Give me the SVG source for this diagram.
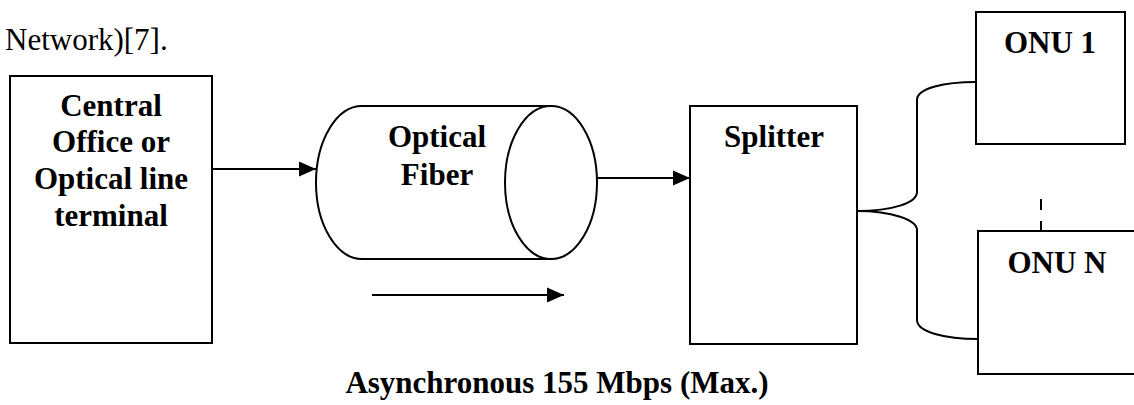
<svg xmlns="http://www.w3.org/2000/svg" width="1134" height="405" viewBox="0 0 1134 405">
  <style>
    .box { fill: #fff; stroke: #000; stroke-width: 2; }
    .line { fill: none; stroke: #000; stroke-width: 2; }
    .lbl { font-family: "Liberation Serif", "Times New Roman", serif; font-weight: bold; font-size: 31px; fill: #000; text-anchor: middle; }
    .body { font-family: "Liberation Serif", "Times New Roman", serif; font-size: 31px; fill: #000; }
  </style>
  <defs>
    <marker id="arrow" markerUnits="userSpaceOnUse" markerWidth="20" markerHeight="18" refX="17" refY="9" orient="auto">
      <path d="M0,1.5 L17,9 L0,16.5 Z" fill="#000"/>
    </marker>
  </defs>
  <rect width="1134" height="405" fill="#fff"/>

  <text class="body" x="5" y="50">Network)[7].</text>

  <g id="central-office">
    <rect class="box" x="10" y="76" width="202" height="267"/>
    <text class="lbl" x="111" y="116">Central</text>
    <text class="lbl" x="111" y="152">Office or</text>
    <text class="lbl" x="111" y="189">Optical line</text>
    <text class="lbl" x="111" y="226">terminal</text>
  </g>

  <g id="optical-fiber">
    <path class="box" d="M362,106 L551,106 L551,259 L362,259 A46,76.5 0 0 1 362,106 Z"/>
    <ellipse class="box" cx="551" cy="182.5" rx="46" ry="76.5"/>
    <text class="lbl" x="437" y="147">Optical</text>
    <text class="lbl" x="437" y="185">Fiber</text>
  </g>

  <g id="splitter">
    <rect class="box" x="690" y="106" width="167" height="238"/>
    <text class="lbl" x="774" y="147">Splitter</text>
  </g>

  <g id="onu-1">
    <rect class="box" x="976" y="12" width="149" height="132"/>
    <text class="lbl" x="1050" y="53">ONU 1</text>
  </g>

  <g id="onu-n">
    <rect class="box" x="978" y="231" width="170" height="143"/>
    <text class="lbl" x="1057" y="273">ONU N</text>
  </g>

  <g id="connectors">
    <line class="line" x1="212" y1="169" x2="316" y2="169" marker-end="url(#arrow)"/>
    <line class="line" x1="597" y1="178" x2="690" y2="178" marker-end="url(#arrow)"/>
    <line class="line" x1="372" y1="295" x2="564" y2="295" marker-end="url(#arrow)"/>
    <path class="line" d="M857,211 C892,211 917,203 917,192 L917,100 C917,88 945,82 976,82"/>
    <path class="line" d="M857,211 C892,211 917,220 917,230 L917,320 C917,332 945,339 978,339"/>
    <path class="line" d="M1041,199 L1041,210 M1041,221 L1041,231"/>
  </g>

  <text class="lbl" x="557" y="393">Asynchronous 155 Mbps (Max.)</text>
</svg>
